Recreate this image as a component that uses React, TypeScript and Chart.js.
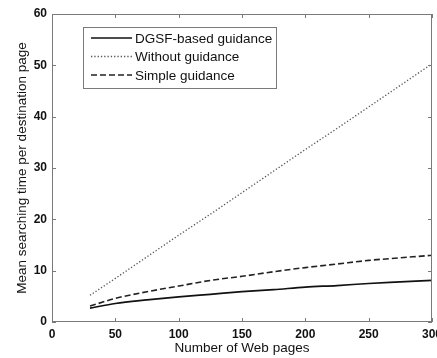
import React, { useEffect, useRef } from 'react';
import { Chart, registerables } from 'chart.js';

Chart.register(...registerables);

const xValues = [30, 50, 75, 100, 125, 150, 175, 200, 225, 250, 275, 300];
const dgsfGuidance = [2.7, 3.6, 4.3, 4.9, 5.4, 5.9, 6.3, 6.8, 7.1, 7.5, 7.8, 8.1];
const withoutGuidance = [5.2, 8.5, 12.7, 16.9, 21.0, 25.2, 29.4, 33.6, 37.7, 41.9, 46.1, 50.3];
const simpleGuidance = [3.1, 4.6, 5.9, 7.0, 8.1, 8.9, 9.8, 10.6, 11.3, 12.0, 12.5, 13.0];
const seriesLabels = ['DGSF-based guidance', 'Without guidance', 'Simple guidance'];
const xTickValues = [0, 50, 100, 150, 200, 250, 300];
const yTickValues = [0, 10, 20, 30, 40, 50, 60];
const xTitle = 'Number of Web pages';
const yTitle = 'Mean searching time per destination page';

const FONT = '"Liberation Sans", Arial, Helvetica, sans-serif';
const FRAME = '#7a7a7a';

const styles = [
  { color: '#111111', dash: [] as number[], width: 1.7 },
  { color: '#555555', dash: [1.3, 2], width: 1.3 },
  { color: '#222222', dash: [6, 3], width: 1.6 },
];

const framePlugin = {
  id: 'frameAndLegend',
  afterDraw(chart: any) {
    const { ctx, chartArea } = chart;
    const { left, right, top, bottom } = chartArea;
    const xs = chart.scales.x;
    const ys = chart.scales.y;
    ctx.save();
    ctx.strokeStyle = FRAME;
    ctx.lineWidth = 1;
    ctx.setLineDash([]);
    ctx.strokeRect(left + 0.5, top + 0.5, right - left - 1, bottom - top - 1);
    const tl = 4;
    ctx.beginPath();
    xTickValues.forEach((v) => {
      const px = Math.round(xs.getPixelForValue(v)) + 0.5;
      ctx.moveTo(px, bottom);
      ctx.lineTo(px, bottom - tl);
      ctx.moveTo(px, top);
      ctx.lineTo(px, top + tl);
    });
    yTickValues.forEach((v) => {
      const py = Math.round(ys.getPixelForValue(v)) + 0.5;
      ctx.moveTo(left, py);
      ctx.lineTo(left + tl, py);
      ctx.moveTo(right, py);
      ctx.lineTo(right - tl, py);
    });
    ctx.stroke();

    // legend box
    const bx = left + 31;
    const by = top + 13;
    const bw = 193;
    const bh = 61;
    ctx.fillStyle = '#ffffff';
    ctx.fillRect(bx, by, bw, bh);
    ctx.strokeStyle = FRAME;
    ctx.strokeRect(bx + 0.5, by + 0.5, bw, bh);
    ctx.font = `13.5px ${FONT}`;
    ctx.textBaseline = 'middle';
    ctx.textAlign = 'left';
    seriesLabels.forEach((label, i) => {
      const st = styles[i];
      const ly = by + 11 + i * 18.5;
      ctx.beginPath();
      ctx.strokeStyle = st.color;
      ctx.lineWidth = st.width;
      ctx.setLineDash(st.dash);
      ctx.moveTo(bx + 8, ly);
      ctx.lineTo(bx + 49, ly);
      ctx.stroke();
      ctx.setLineDash([]);
      ctx.fillStyle = '#111111';
      ctx.fillText(label, bx + 52, ly + 1);
    });
    ctx.restore();
  },
};

export default function App() {
  const canvasRef = useRef<HTMLCanvasElement | null>(null);

  useEffect(() => {
    document.body.style.margin = '0';
    const canvas = canvasRef.current;
    if (!canvas) return;
    const seriesData = [dgsfGuidance, withoutGuidance, simpleGuidance];
    const chart = new Chart(canvas, {
      type: 'line',
      data: {
        datasets: seriesData.map((arr, i) => ({
          label: seriesLabels[i],
          data: xValues.map((x, j) => ({ x, y: arr[j] })),
          borderColor: styles[i].color,
          borderWidth: styles[i].width,
          borderDash: styles[i].dash,
          pointRadius: 0,
          fill: false,
          cubicInterpolationMode: 'monotone' as const,
        })),
      },
      options: {
        animation: false,
        responsive: false,
        maintainAspectRatio: false,
        layout: { padding: { top: 14, right: 5, left: 0, bottom: 0 } },
        plugins: { legend: { display: false }, tooltip: { enabled: false } },
        scales: {
          x: {
            type: 'linear',
            min: 0,
            max: 300,
            afterBuildTicks: (scale: any) => {
              scale.ticks = xTickValues.map((v) => ({ value: v }));
            },
            afterFit: (scale: any) => {
              scale.height = 36;
              scale.paddingLeft = 0;
              scale.paddingRight = 0;
            },
            grid: { display: false, drawTicks: false },
            border: { display: false },
            ticks: {
              padding: 5,
              color: '#111',
              maxRotation: 0,
              autoSkip: false,
              font: { family: FONT, size: 12, weight: 'bold' },
            },
            title: {
              display: true,
              text: xTitle,
              color: '#111',
              padding: { top: 0, bottom: 2 },
              font: { family: FONT, size: 13.5 },
            },
          },
          y: {
            type: 'linear',
            min: 0,
            max: 60,
            afterBuildTicks: (scale: any) => {
              scale.ticks = yTickValues.map((v) => ({ value: v }));
            },
            afterFit: (scale: any) => {
              scale.width = 52;
              scale.paddingTop = 0;
              scale.paddingBottom = 0;
            },
            grid: { display: false, drawTicks: false },
            border: { display: false },
            ticks: {
              padding: 5,
              color: '#111',
              autoSkip: false,
              font: { family: FONT, size: 12, weight: 'bold' },
            },
            title: {
              display: true,
              text: yTitle,
              color: '#111',
              padding: { top: 14, bottom: 0 },
              font: { family: FONT, size: 13.5 },
            },
          },
        },
      },
      plugins: [framePlugin],
    });
    return () => chart.destroy();
  }, []);

  return (
    <div style={{ position: 'fixed', left: 0, top: 0, width: 437, height: 358, background: '#fff' }}>
      <canvas ref={canvasRef} width={437} height={358} style={{ width: 437, height: 358, display: 'block' }} />
    </div>
  );
}
